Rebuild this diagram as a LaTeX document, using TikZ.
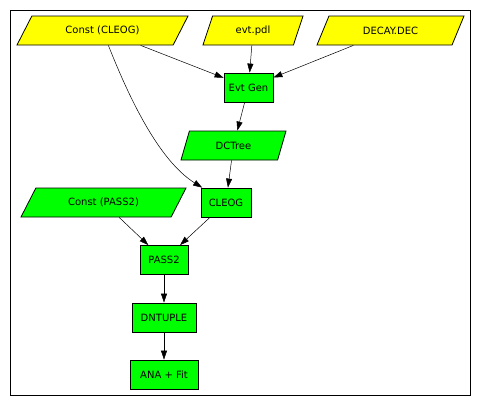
\documentclass[tikz,border=0pt]{standalone}
\usepackage{fontspec}
\setmainfont{DejaVu Sans}
\usepackage{tikz}
\usetikzlibrary{shapes.geometric, arrows.meta}
\definecolor{infile}{RGB}{255, 255, 0}
\definecolor{outfile}{RGB}{0, 255, 0}

\begin{document}
\begin{tikzpicture}[x=1pt, y=-1pt, font=\fontsize{10}{12}\selectfont,
    job/.style={draw, line width=0.8pt, fill=outfile, minimum height=29pt, inner sep=2pt},
    dat/.style={draw, line width=0.8pt, trapezium, trapezium left angle=#1,
      trapezium right angle={180-#1}, trapezium stretches body,
      minimum height=29pt, inner sep=2pt},
    edge/.style={line width=0.5pt, -{Triangle[length=9pt, width=6pt]}}]
  \useasboundingbox (0, 0) rectangle (480, 405);
  \draw[line width=1pt] (10, 10) rectangle (470, 395);

  % input files
  \node[dat=41, fill=infile, minimum width=171pt] (cleogc) at (102.5, 30.5) {Const (CLEOG)};
  \node[dat=55, fill=infile, minimum width=100pt] (evtpdl) at (253, 30.5) {evt.pdl};
  \node[dat=44, fill=infile, minimum width=147pt] (decay) at (390.5, 30.5) {DECAY.DEC};

  \node[job, minimum width=49pt] (evtgen) at (248.5, 87.5) {Evt Gen};
  \node[dat=54, fill=outfile, minimum width=105pt] (dctree) at (233.5, 145.5) {DCTree};
  \node[job, minimum width=50pt] (cleog) at (226, 202.5) {CLEOG};
  \node[dat=41, fill=outfile, minimum width=165pt] (passc) at (103.5, 202.5) {Const (PASS2)};

  \node[job, minimum width=48pt] (pass2) at (164, 260) {PASS2};
  \node[job, minimum width=64pt] (dntuple) at (164, 317.5) {DNTUPLE};
  \node[job, minimum width=68pt] (ana) at (164, 374.5) {ANA + Fit};

  \draw[edge] (cleogc) -- (evtgen);
  \draw[edge] (evtpdl) -- (evtgen);
  \draw[edge] (decay) -- (evtgen);
  \draw[edge] (cleogc) .. controls (128, 95) and (158, 160) .. (cleog);
  \draw[edge] (evtgen) -- (dctree);
  \draw[edge] (dctree) -- (cleog);
  \draw[edge] (passc) -- (pass2);
  \draw[edge] (cleog) -- (pass2);
  \draw[edge] (pass2) -- (dntuple);
  \draw[edge] (dntuple) -- (ana);

\end{tikzpicture}
\end{document}
